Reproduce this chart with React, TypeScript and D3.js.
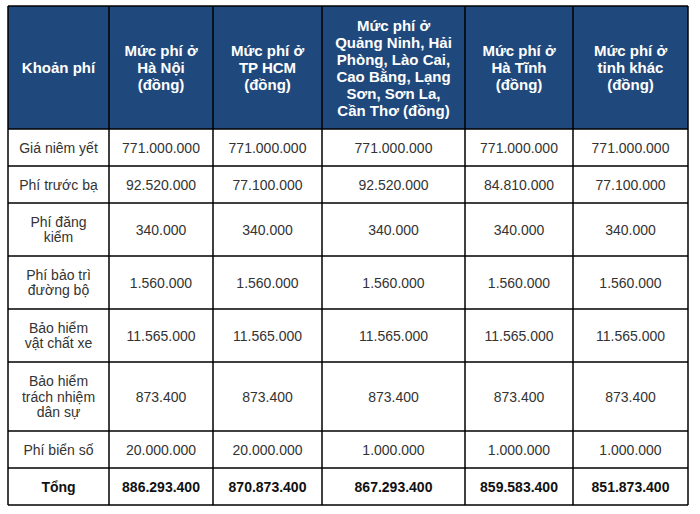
import React from "react";
import * as d3 from "d3";

const headerLines: string[][] = [
  ["Khoản phí"],
  ["Mức phí ở", "Hà Nội", "(đồng)"],
  ["Mức phí ở", "TP HCM", "(đồng)"],
  ["Mức phí ở", "Quảng Ninh, Hải", "Phòng, Lào Cai,", "Cao Bằng, Lạng", "Sơn, Sơn La,", "Cần Thơ (đồng)"],
  ["Mức phí ở", "Hà Tĩnh", "(đồng)"],
  ["Mức phí ở", "tỉnh khác", "(đồng)"],
];

const rowLabels: string[][] = [
  ["Giá niêm yết"],
  ["Phí trước bạ"],
  ["Phí đăng", "kiểm"],
  ["Phí bảo trì", "đường bộ"],
  ["Bảo hiểm", "vật chất xe"],
  ["Bảo hiểm", "trách nhiệm", "dân sự"],
  ["Phí biển số"],
  ["Tổng"],
];

const haNoi = ["771.000.000", "92.520.000", "340.000", "1.560.000", "11.565.000", "873.400", "20.000.000", "886.293.400"];
const tpHCM = ["771.000.000", "77.100.000", "340.000", "1.560.000", "11.565.000", "873.400", "20.000.000", "870.873.400"];
const quangNinh = ["771.000.000", "92.520.000", "340.000", "1.560.000", "11.565.000", "873.400", "1.000.000", "867.293.400"];
const haTinh = ["771.000.000", "84.810.000", "340.000", "1.560.000", "11.565.000", "873.400", "1.000.000", "859.583.400"];
const tinhKhac = ["771.000.000", "77.100.000", "340.000", "1.560.000", "11.565.000", "873.400", "1.000.000", "851.873.400"];

const valueColumns = [haNoi, tpHCM, quangNinh, haTinh, tinhKhac];

const colWidths = [101, 104, 109, 143, 108, 115];

export default function App() {
  const left = 8;
  const top = 6;
  const pad = 21;
  const headerLineH = 17;
  const bodyLineH = 16;
  const bodyTextLH = 15.5;

  const xEdges = [left, ...Array.from(d3.cumsum(colWidths), (v) => left + v)];
  const headerH = pad + d3.max(headerLines, (l) => l.length)! * headerLineH;
  const rowHeights = rowLabels.map((l) => pad + l.length * bodyLineH);
  const yEdges = [top, top + headerH, ...Array.from(d3.cumsum(rowHeights), (v) => top + headerH + v)];
  const right = xEdges[xEdges.length - 1];
  const bottom = yEdges[yEdges.length - 1];
  const font = "Arial, 'Liberation Sans', sans-serif";

  const cx = (i: number) => (xEdges[i] + xEdges[i + 1]) / 2;

  const texts: React.ReactNode[] = [];
  headerLines.forEach((lines, ci) => {
    const cy = (yEdges[0] + yEdges[1]) / 2;
    lines.forEach((t, li) => {
      texts.push(
        <text key={`h${ci}-${li}`} x={cx(ci)} y={cy + (li - (lines.length - 1) / 2) * headerLineH}
          textAnchor="middle" dominantBaseline="central" fill="#ffffff" fontWeight="bold" fontSize={15} fontFamily={font}>
          {t}
        </text>
      );
    });
  });
  rowLabels.forEach((lines, ri) => {
    const cy = (yEdges[ri + 1] + yEdges[ri + 2]) / 2;
    const isTotal = ri === rowLabels.length - 1;
    const color = isTotal ? "#111111" : "#333333";
    lines.forEach((t, li) => {
      texts.push(
        <text key={`r${ri}-${li}`} x={cx(0)} y={cy + (li - (lines.length - 1) / 2) * bodyTextLH}
          textAnchor="middle" dominantBaseline="central" fill={color} fontWeight={isTotal ? "bold" : "normal"} fontSize={14} fontFamily={font}>
          {t}
        </text>
      );
    });
    valueColumns.forEach((col, vi) => {
      texts.push(
        <text key={`v${ri}-${vi}`} x={cx(vi + 1)} y={cy}
          textAnchor="middle" dominantBaseline="central" fill={color} fontWeight={isTotal ? "bold" : "normal"} fontSize={14} fontFamily={font}>
          {col[ri]}
        </text>
      );
    });
  });

  return (
    <svg width={700} height={514} style={{ position: "fixed", left: 0, top: 0, background: "#ffffff" }}>
      <rect x={0} y={0} width={700} height={514} fill="#ffffff" />
      <rect x={left} y={top} width={right - left} height={headerH} fill="#1f497c" />
      {yEdges.map((y, i) => (
        <line key={`hl${i}`} x1={left} x2={right} y1={y} y2={y} stroke="#000" strokeWidth={1.5} />
      ))}
      {xEdges.map((x, i) => (
        <line key={`vl${i}`} x1={x} x2={x} y1={top} y2={bottom} stroke="#000" strokeWidth={1.5} />
      ))}
      {texts}
    </svg>
  );
}
